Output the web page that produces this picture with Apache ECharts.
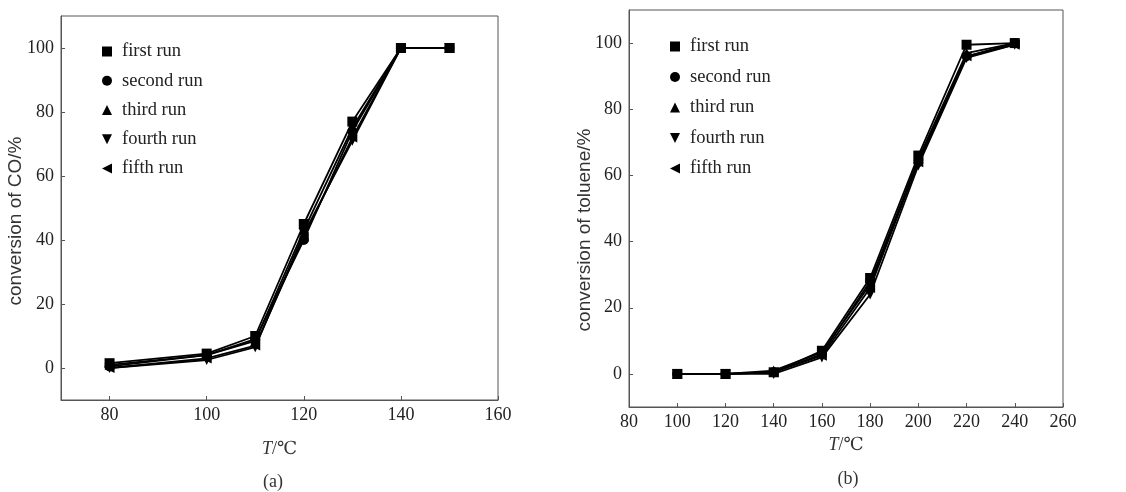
<!DOCTYPE html>
<html>
<head>
<meta charset="utf-8">
<script src="https://cdn.jsdelivr.net/npm/echarts@6/dist/echarts.min.js"></script>
<style>
html,body{margin:0;padding:0;background:#fff;}
#c{width:1126px;height:492px;}
</style>
</head>
<body>
<div id="c"></div>
<script>
// ---- data ----
const runNames = ['first run', 'second run', 'third run', 'fourth run', 'fifth run'];
const tempCO = [80, 100, 110, 120, 130, 140, 150];
const coFirst  = [1.5, 4.5, 10, 45, 77, 100, 100];
const coSecond = [0.5, 4, 9, 40, 74, 100, 100];
const coThird  = [1, 4, 8.5, 43, 75, 100, 100];
const coFourth = [0, 2.5, 6.5, 42, 71, 100, 100];
const coFifth  = [0, 3, 7, 41, 72, 100, 100];

const tempTol = [100, 120, 140, 160, 180, 200, 220, 240];
const tolFirst  = [0, 0, 0.5, 7, 29, 66, 99.5, 100];
const tolSecond = [0, 0, 0.5, 6, 28, 64, 96, 100];
const tolThird  = [0, 0, 1, 6.5, 27, 65, 97, 100];
const tolFourth = [0, 0, 0, 5, 24, 63, 95.5, 99.5];
const tolFifth  = [0, 0, 0.5, 5.5, 26, 64, 96, 99.5];

const yTicks = [0, 20, 40, 60, 80, 100];
const xTicksA = [80, 100, 120, 140, 160];
const xTicksB = [80, 100, 120, 140, 160, 180, 200, 220, 240, 260];
const yTitleA = 'conversion of CO/%';
const yTitleB = 'conversion of toluene/%';
const xTitle = '{i|T}/℃';

// ---- styling ----
const symbols = ['rect', 'circle', 'triangle', 'path://M0,0 L10,0 L5,10 Z', 'path://M10,0 L10,10 L0,5 Z'];
const serif = '"Liberation Serif", "DejaVu Serif", serif';
const sans = '"Liberation Sans", Arial, sans-serif';
const frameColor = '#555';

function zip(xs, ys) { return xs.map((x, i) => [x, ys[i]]); }

const coSets = [coFirst, coSecond, coThird, coFourth, coFifth];
const tolSets = [tolFirst, tolSecond, tolThird, tolFourth, tolFifth];

function makeSeries(xs, sets, idx) {
  return sets.map((ys, i) => ({
    name: runNames[i],
    type: 'line',
    xAxisIndex: idx, yAxisIndex: idx,
    data: zip(xs, ys),
    symbol: symbols[i],
    symbolSize: 10,
    lineStyle: { color: '#000', width: 1.8 },
    itemStyle: { color: '#000' },
    animation: false
  }));
}

function xAxis(idx, min, max, ticks, gap) {
  return {
    type: 'value', gridIndex: idx, min: min, max: max,
    splitLine: { show: false },
    axisLine: { show: true, onZero: false, lineStyle: { color: frameColor, width: 1 } },
    axisTick: { show: true, inside: true, length: 4, customValues: ticks, lineStyle: { color: frameColor } },
    axisLabel: { customValues: ticks, color: '#222', fontFamily: serif, fontSize: 18, margin: 6 },
    name: xTitle, nameLocation: 'middle', nameGap: gap,
    nameTextStyle: { color: '#333', fontFamily: serif, fontSize: 18,
      rich: { i: { fontStyle: 'italic', fontFamily: serif, fontSize: 18, color: '#333' } } }
  };
}
function yAxis(idx) {
  return {
    type: 'value', gridIndex: idx, min: -10, max: 110,
    splitLine: { show: false },
    axisLine: { show: true, onZero: false, lineStyle: { color: frameColor, width: 1 } },
    axisTick: { show: true, inside: true, length: 4, customValues: yTicks, lineStyle: { color: frameColor } },
    axisLabel: { customValues: yTicks, color: '#222', fontFamily: serif, fontSize: 18, margin: 7 }
  };
}
function legend(left, top, gap) {
  return {
    orient: 'vertical', left: left, top: top, itemGap: gap, padding: 0,
    itemWidth: 10, itemHeight: 10,
    data: runNames.map((n, i) => ({ name: n, icon: symbols[i] })),
    textStyle: { color: '#222', fontFamily: serif, fontSize: 18.5, padding: [0, 0, 0, 5] },
    selectedMode: false
  };
}

const option = {
  backgroundColor: '#fff',
  animation: false,
  grid: [
    { left: 61, top: 16, width: 437, height: 384, show: true, borderColor: frameColor, borderWidth: 1, backgroundColor: 'transparent' },
    { left: 629, top: 10, width: 434, height: 397, show: true, borderColor: frameColor, borderWidth: 1, backgroundColor: 'transparent' }
  ],
  xAxis: [xAxis(0, 70, 160, xTicksA, 40), xAxis(1, 80, 260, xTicksB, 23)],
  yAxis: [yAxis(0), yAxis(1)],
  legend: [legend(102, 42, 10.25), legend(670, 37, 11.5)],
  graphic: [
    { type: 'text', x: 16, y: 221, rotation: Math.PI / 2,
      style: { text: yTitleA, font: '19px ' + sans, fill: '#333', align: 'center', verticalAlign: 'middle' } },
    { type: 'text', x: 585, y: 230, rotation: Math.PI / 2,
      style: { text: yTitleB, font: '19px ' + sans, fill: '#333', align: 'center', verticalAlign: 'middle' } },
    { type: 'text', x: 273, y: 482,
      style: { text: '(a)', font: '18px ' + serif, fill: '#333', align: 'center', verticalAlign: 'middle' } },
    { type: 'text', x: 848, y: 479,
      style: { text: '(b)', font: '18px ' + serif, fill: '#333', align: 'center', verticalAlign: 'middle' } }
  ],
  series: [].concat(makeSeries(tempCO, coSets, 0), makeSeries(tempTol, tolSets, 1))
};

const chart = echarts.init(document.getElementById('c'), null, { renderer: 'canvas' });
chart.setOption(option);
</script>
</body>
</html>
